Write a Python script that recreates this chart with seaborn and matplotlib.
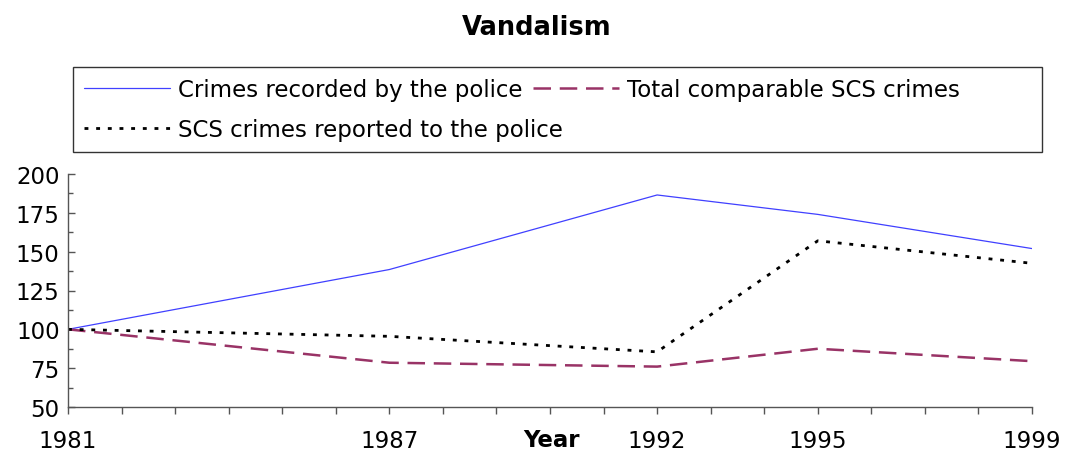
import numpy as np
import pandas as pd
import seaborn as sns
import matplotlib.pyplot as plt
from matplotlib.patches import Rectangle

# ==============================
# data
# ==============================

YEARS = [1981, 1987, 1992, 1995, 1999]

police = [100, 138.5, 186.5, 174, 152]
scs_total = [100, 78.5, 76, 87.5, 79.5]
scs_reported = [100, 95.5, 85.5, 157, 142.5]

LABELS = [
    "Crimes recorded by the police",
    "Total comparable SCS crimes",
    "SCS crimes reported to the police",
]

# ==============================
# style
# ==============================

sns.set_style("white")
plt.rcParams["font.family"] = ["DejaVu Sans"]
plt.rcParams["text.color"] = "black"
plt.rcParams["xtick.color"] = "black"
plt.rcParams["ytick.color"] = "black"

fig = plt.figure(figsize=(10.74, 4.52), dpi=100)
ax = fig.add_axes([68 / 1074, 1 - 408 / 452, 964 / 1074, 233 / 452])

series = [
    (police, LABELS[0], "#4040ff", 0.9, "-"),
    (scs_total, LABELS[1], "#993366", 1.8, (0, (7.0, 3.5))),
    (scs_reported, LABELS[2], "black", 2.0, (0, (1.4, 2.8))),
]

for vals, name, col, lw, ls in series:
    sns.lineplot(
        x=YEARS,
        y=vals,
        ax=ax,
        color=col,
        linewidth=lw,
        linestyle=ls,
        label=name,
    )

# ==============================
# axes
# ==============================

ax.set_xlim(1981, 1999)
ax.set_ylim(50, 200)

ax.set_xticks(YEARS)
ax.set_xticks(range(1981, 2000), minor=True)
ax.set_yticks(np.arange(50, 201, 25))
ax.set_yticks(np.arange(62.5, 200, 25), minor=True)

ax.tick_params(axis="x", which="both", bottom=True, direction="out", length=5,
               width=1, color="#555555", labelsize=16.5, labelcolor="black", pad=10.5)
ax.tick_params(axis="y", which="major", left=True, direction="in", length=5,
               width=1, color="#555555", labelsize=16.5, labelcolor="black", pad=6)
ax.tick_params(axis="y", which="minor", left=True, direction="in", length=3.5,
               width=1, color="#555555")

for side in ["top", "right"]:
    ax.spines[side].set_visible(False)
for side in ["left", "bottom"]:
    ax.spines[side].set_color("#555555")
    ax.spines[side].set_linewidth(1)

ax.set_xlabel("Year", fontsize=16.5, fontweight="bold", color="black")
ax.xaxis.set_label_coords(0.502, -0.14)
ax.xaxis.label.set_va("center")
ax.set_ylabel("")

fig.suptitle("Vandalism", fontsize=18.5, fontweight="bold", color="black",
             y=1 - 28 / 452, va="center")

# ==============================
# legend
# ==============================

handles, labels = ax.get_legend_handles_labels()
order = [0, 2, 1]

leg = ax.legend(
    [handles[i] for i in order],
    [labels[i] for i in order],
    ncol=2,
    loc="upper left",
    bbox_to_anchor=(84 / 1074, 1 - 79.5 / 452),
    bbox_transform=fig.transFigure,
    frameon=False,
    fontsize=16.5,
    handlelength=3.75,
    handletextpad=0.35,
    columnspacing=-1.3,
    labelspacing=0.72,
    borderpad=0,
    borderaxespad=0,
)
for t in leg.get_texts():
    t.set_color("black")

fig.patches.append(
    Rectangle(
        (73 / 1074, 1 - 153 / 452),
        969 / 1074,
        85 / 452,
        transform=fig.transFigure,
        fill=False,
        edgecolor="#333333",
        linewidth=1,
    )
)

plt.savefig("out.png", dpi=100)
